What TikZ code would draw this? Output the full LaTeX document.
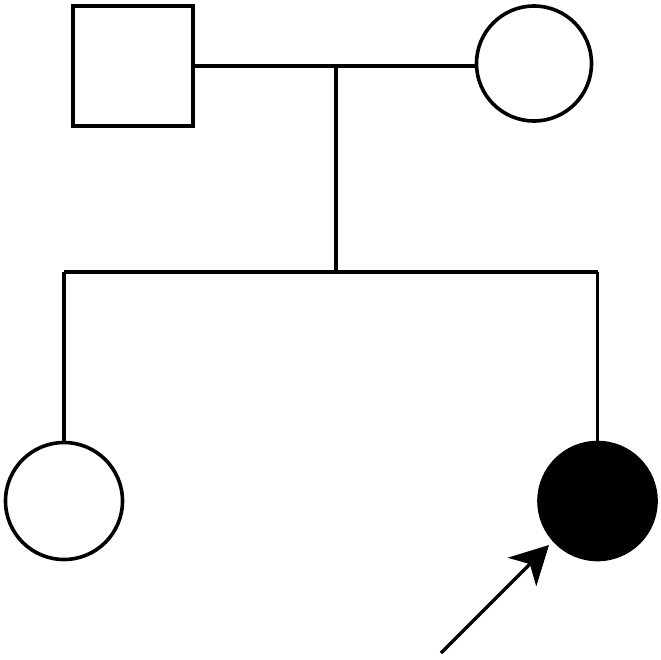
\documentclass[tikz,border=0pt]{standalone}
\usetikzlibrary{arrows.meta}
\begin{document}
\begin{tikzpicture}[x=1pt,y=-1pt,
  person/.style={draw=black,line width=3.6pt,fill=white,inner sep=0pt,outer sep=0pt},
  male/.style={person,rectangle,minimum size=120pt},
  female/.style={person,circle,minimum size=115pt},
  affected/.style={fill=black},
  link/.style={line width=3.4pt},
  pointer/.style={line width=3.4pt,-{Stealth[length=38pt,width=40pt,inset=11pt]}}]
\useasboundingbox (0,0) rectangle (661,659);
\fill[white] (0,0) rectangle (661,659);
\node[male] (father) at (133,66) {};
\node[female] (mother) at (534,63.5) {};
\coordinate (mate) at (336,66);
\coordinate (sib) at (336,272);
\coordinate (sibL) at (64,272);
\coordinate (sibR) at (597.5,272);
\node[female,minimum size=117pt] (d1) at (64,501) {};
\node[female,affected,minimum size=117pt] (d2) at (597.5,501) {};
\coordinate (tail) at (441,653);
\draw[link] (father.east) -- (mother.west |- father.east);
\draw[link] (mate) -- (sib);
\draw[link] (sibL) -- (sibR);
\draw[link] (sibL) -- (d1.north);
\draw[link] (sibR) -- (d2.north);
\draw[pointer] (tail) -- (549,545);
\end{tikzpicture}
\end{document}
